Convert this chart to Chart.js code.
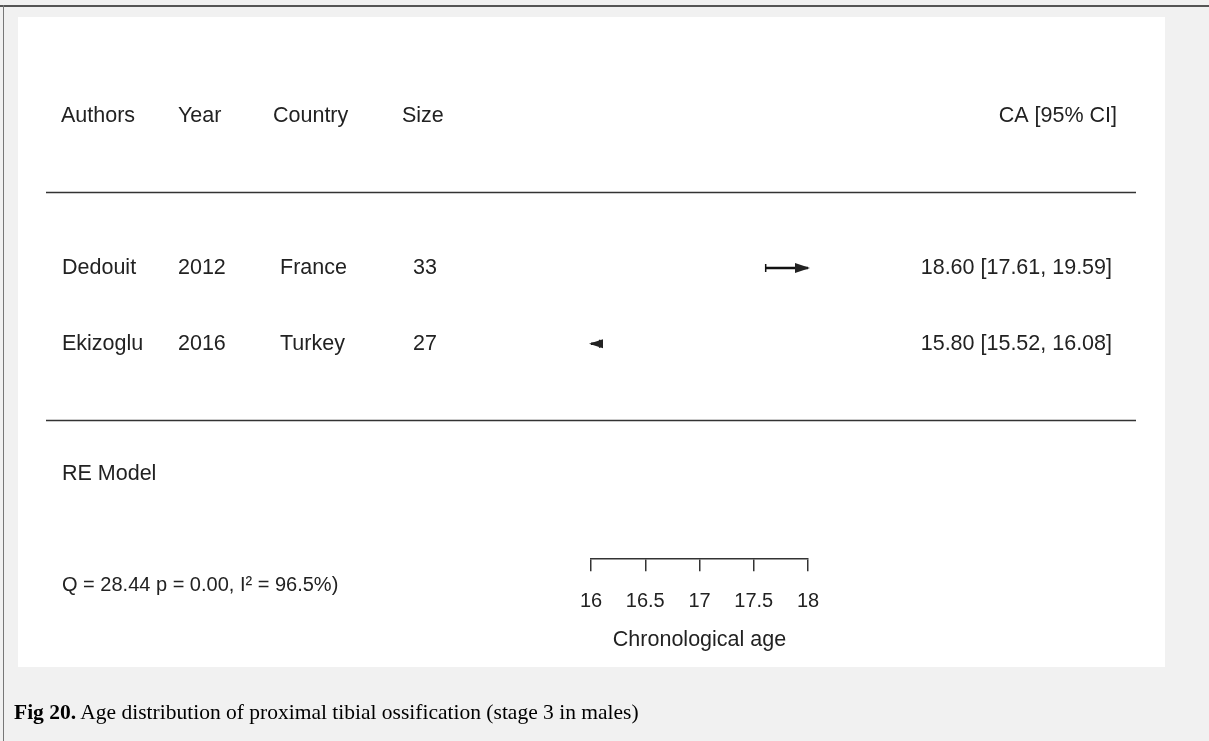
<!DOCTYPE html>
<html>
<head>
<meta charset="utf-8">
<script src="https://cdn.jsdelivr.net/npm/chart.js@4/dist/chart.umd.min.js"></script>
<style>
  html, body { margin: 0; padding: 0; }
  body { width: 1209px; height: 741px; background: #f1f1f1; position: relative; overflow: hidden; }
  .frame-top { position: absolute; left: 0; top: 5px; width: 1209px; height: 2px; background: #555; }
  .frame-left { position: absolute; left: 3px; top: 5px; width: 1px; height: 736px; background: #777; }
  .panel { position: absolute; left: 18px; top: 17px; width: 1147px; height: 650px; background: #fff; }
  #chart { position: absolute; left: 0; top: 0; }
  .caption { position: absolute; left: 14px; top: 700px; font-family: "Liberation Serif", "Times New Roman", serif; font-size: 21.5px; color: #000; }
</style>
</head>
<body>
<div class="frame-top"></div>
<div class="frame-left"></div>
<div class="panel"></div>
<canvas id="chart" width="1209" height="741"></canvas>
<div class="caption"><b>Fig 20.</b> Age distribution of proximal tibial ossification (stage 3 in males)</div>
<script>
// Study data
const studyAuthors = ['Dedouit', 'Ekizoglu'];
const studyYears = ['2012', '2016'];
const studyCountries = ['France', 'Turkey'];
const studySizes = ['33', '27'];
const estimates = [18.60, 15.80];
const ciLower = [17.61, 15.52];
const ciUpper = [19.59, 16.08];
const studyRows = [2, 1];  // row index on the y scale (top study highest)

// Header and footer text
const headerLabels = ['Authors', 'Year', 'Country', 'Size'];
const ciHeader = 'CA [95% CI]';
const modelLabel = 'RE Model';
const statsLabel = 'Q = 28.44 p = 0.00, I\u00B2 = 96.5%)';
const xTicks = [16, 16.5, 17, 17.5, 18];
const xTitle = 'Chronological age';

const FONT = '"Liberation Sans", Arial, sans-serif';
const INK = '#222';

// Text layout (pixel columns)
const headerX = [61, 178, 273, 402];
const valueX = [62, 178, 280, 413];
const headerRightX = 1117;
const valueRightX = 1112;
const headerRow = 4, topRule = 3, bottomRule = 0, modelRow = -0.72, statsRow = -2.18;

function fmt(v) { return v.toFixed(2); }

// Draws table text, rules and clipped-interval arrows
const forestPlugin = {
  id: 'forest',
  afterDatasetsDraw(chart) {
    const ctx = chart.ctx;
    const xs = chart.scales.x, ys = chart.scales.y;
    const xmin = xs.min, xmax = xs.max;
    ctx.save();
    ctx.fillStyle = INK;
    ctx.font = '21.5px ' + FONT;
    ctx.textBaseline = 'middle';

    // header row
    ctx.textAlign = 'left';
    headerLabels.forEach((h, i) => ctx.fillText(h, headerX[i], ys.getPixelForValue(headerRow)));
    ctx.textAlign = 'right';
    ctx.fillText(ciHeader, headerRightX, ys.getPixelForValue(headerRow));

    // study rows
    studyRows.forEach((r, i) => {
      const y = ys.getPixelForValue(r);
      ctx.textAlign = 'left';
      ctx.fillText(studyAuthors[i], valueX[0], y);
      ctx.fillText(studyYears[i], valueX[1], y);
      ctx.fillText(studyCountries[i], valueX[2], y);
      ctx.fillText(studySizes[i], valueX[3], y);
      ctx.textAlign = 'right';
      ctx.fillText(fmt(estimates[i]) + ' [' + fmt(ciLower[i]) + ', ' + fmt(ciUpper[i]) + ']', valueRightX, y);

      // arrows where the interval runs off the axis
      ctx.beginPath();
      if (ciUpper[i] > xmax) {
        const px = xs.getPixelForValue(xmax);
        ctx.moveTo(px + 2, y);
        ctx.lineTo(px - 13, y - 5);
        ctx.lineTo(px - 13, y + 5);
        ctx.closePath();
      }
      if (ciLower[i] < xmin) {
        const px = xs.getPixelForValue(xmin);
        ctx.moveTo(px - 2, y);
        ctx.lineTo(px + 12, y - 4.5);
        ctx.lineTo(px + 12, y + 4.5);
        ctx.closePath();
      }
      ctx.fill();
    });

    // horizontal rules
    ctx.strokeStyle = '#333';
    ctx.lineWidth = 1.5;
    [topRule, bottomRule].forEach(r => {
      const y = Math.round(ys.getPixelForValue(r)) + 0.5;
      ctx.beginPath();
      ctx.moveTo(46, y);
      ctx.lineTo(1136, y);
      ctx.stroke();
    });

    // model summary text
    ctx.textAlign = 'left';
    ctx.fillText(modelLabel, 62, ys.getPixelForValue(modelRow));
    ctx.font = '20px ' + FONT;
    ctx.fillText(statsLabel, 62, ys.getPixelForValue(statsRow));
    ctx.restore();
  }
};

const ciDatasets = studyRows.map((r, i) => ({
  type: 'line',
  data: [{ x: ciLower[i], y: r }, { x: ciUpper[i], y: r }],
  borderColor: '#111',
  backgroundColor: '#111',
  borderWidth: 2.5,
  pointStyle: 'line',
  rotation: 90,
  pointRadius: 4,
  pointBorderWidth: 1.5
}));

new Chart(document.getElementById('chart'), {
  type: 'scatter',
  data: {
    datasets: [
      ...ciDatasets,
      {
        data: estimates.map((v, i) => ({ x: v, y: studyRows[i] })),
        pointStyle: 'rect',
        pointRadius: 5,
        backgroundColor: '#111',
        borderColor: '#111'
      }
    ]
  },
  options: {
    responsive: false,
    animation: false,
    layout: { padding: { left: 591, right: 401, top: 13, bottom: 88 } },
    plugins: { legend: { display: false }, tooltip: { enabled: false } },
    scales: {
      x: {
        type: 'linear',
        min: 16,
        max: 18,
        afterBuildTicks: (scale) => { scale.ticks = xTicks.map(v => ({ value: v })); },
        grid: { display: true, drawOnChartArea: false, drawTicks: true, tickLength: 12, color: '#333', lineWidth: 1.5 },
        border: { display: true, color: '#333', width: 1.5 },
        ticks: { color: INK, font: { family: FONT, size: 20 }, padding: 18, maxRotation: 0, autoSkip: false, callback: (v) => String(v) },
        title: { display: true, text: xTitle, color: INK, font: { family: FONT, size: 21.5 }, padding: { top: -4, bottom: 0 } }
      },
      y: {
        type: 'linear',
        display: false,
        min: -1.84,
        max: 5.36
      }
    }
  },
  plugins: [forestPlugin]
});
</script>
</body>
</html>
